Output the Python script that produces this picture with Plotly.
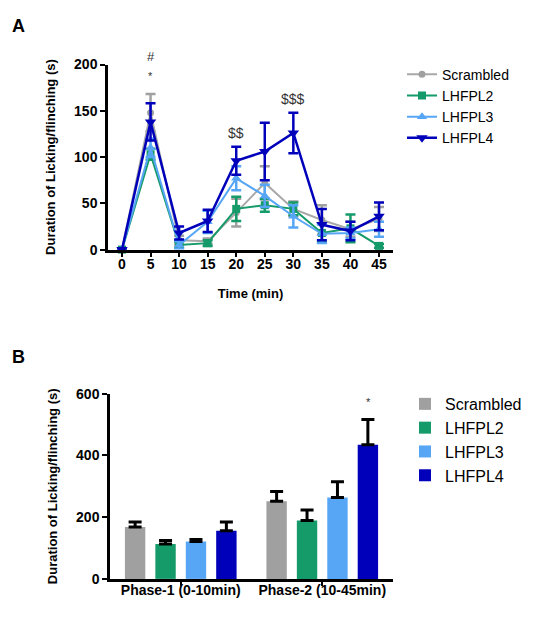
import plotly.graph_objects as go

# ---------------- Data ----------------
groups = ["Scrambled", "LHFPL2", "LHFPL3", "LHFPL4"]
colors = ["#a0a0a0", "#159a6a", "#57a6f6", "#0000bb"]
symbols = ["circle", "square", "triangle-up", "triangle-down"]
marker_sizes = [7, 8, 9, 10]

time_min = [0, 5, 10, 15, 20, 25, 30, 35, 40, 45]
scrambled = [0, 148, 10, 9, 40, 72, 44, 32, 22, 33]
scrambled_err = [0, 20, 5, 3, 15, 18, 8, 16, 8, 13]
lhfpl2 = [0, 103, 5, 7, 44, 48, 44, 18, 23, 4]
lhfpl2_err = [0, 6, 3, 3, 13, 7, 7, 10, 15, 2]
lhfpl3 = [0, 110, 5, 30, 77, 58, 36, 17, 18, 22]
lhfpl3_err = [0, 10, 4, 12, 13, 12, 12, 10, 6, 8]
lhfpl4 = [0, 138, 18, 31, 96, 106, 126, 27, 20, 36]
lhfpl4_err = [0, 20, 7, 12, 15, 31, 22, 17, 10, 15]

phases = ["Phase-1 (0-10min)", "Phase-2 (10-45min)"]
phase_scrambled = [168, 252]
phase_scrambled_err = [16, 31]
phase_lhfpl2 = [113, 189]
phase_lhfpl2_err = [11, 34]
phase_lhfpl3 = [121, 264]
phase_lhfpl3_err = [7, 51]
phase_lhfpl4 = [156, 435]
phase_lhfpl4_err = [28, 82]

line_series = [(scrambled, scrambled_err), (lhfpl2, lhfpl2_err),
               (lhfpl3, lhfpl3_err), (lhfpl4, lhfpl4_err)]
bar_series = [(phase_scrambled, phase_scrambled_err), (phase_lhfpl2, phase_lhfpl2_err),
              (phase_lhfpl3, phase_lhfpl3_err), (phase_lhfpl4, phase_lhfpl4_err)]

line_ticks = [0, 5, 10, 15, 20, 25, 30, 35, 40, 45]
line_yticks = [0, 50, 100, 150, 200]
bar_yticks = [0, 200, 400, 600]

# ---------------- Figure ----------------
W, H = 533, 620
fig = go.Figure()

FONT = "Liberation Sans, Arial, sans-serif"
line_colors = ["#a8a8a8", "#159a6a", "#57a6f6", "#0000bb"]

for i, name in enumerate(groups):
    vals, errs = line_series[i]
    fig.add_trace(go.Scatter(
        x=time_min, y=vals, name=name, mode="lines+markers",
        line=dict(color=line_colors[i], width=2.5 if i == 3 else 2),
        marker=dict(symbol=symbols[i], size=marker_sizes[i], color=colors[i]),
        error_y=dict(type="data", array=errs, color=colors[i], thickness=2.5, width=5),
        cliponaxis=False, xaxis="x", yaxis="y", legend="legend",
    ))

for i, name in enumerate(groups):
    vals, errs = bar_series[i]
    fig.add_trace(go.Bar(
        x=phases, y=vals, name=name,
        marker=dict(color=colors[i], line=dict(width=0)),
        error_y=dict(type="data", array=errs, arrayminus=[0] * len(errs), symmetric=False,
                     color="black", thickness=3, width=6.5),
        xaxis="x2", yaxis="y2", legend="legend2",
    ))

def px_x(p):
    return p / W

def px_y(p):
    return 1 - p / H

def axis_style(ticklen=5, standoff=0):
    return dict(
        showline=True, linecolor="black", linewidth=2.5, ticks="outside", ticklen=ticklen,
        tickwidth=2, tickcolor="black", showgrid=False, zeroline=False,
        ticklabelstandoff=standoff,
        tickfont=dict(family=FONT, size=14, color="black", weight="bold"),
    )

title_font = dict(family=FONT, size=13, weight="bold", color="black")

fig.update_layout(
    width=W, height=H, margin=dict(l=0, r=0, t=0, b=0),
    paper_bgcolor="white", plot_bgcolor="white",
    font=dict(family=FONT, color="black"),
    bargap=0.14, bargroupgap=0.33, barmode="group",
    xaxis=dict(domain=[px_x(108), px_x(393)], range=[-2.45, 47.45], anchor="y",
               tickvals=line_ticks,
               title=dict(text="Time (min)", font=title_font, standoff=18),
               **axis_style(5, -5)),
    yaxis=dict(domain=[px_y(248), px_y(58)], range=[0, 200], anchor="x",
               tickvals=line_yticks,
               title=dict(text="Duration of Licking/flinching (s)", font=title_font, standoff=16),
               **axis_style(5, 0)),
    xaxis2=dict(domain=[px_x(110), px_x(393)], range=[-0.5, 1.5], anchor="y2",
                type="category", **axis_style(4, -7)),
    yaxis2=dict(domain=[px_y(586), px_y(396)], range=[0, 600], anchor="x2",
                tickvals=bar_yticks,
                title=dict(text="Duration of Licking/flinching (s)", font=title_font, standoff=16),
                **axis_style(5, 0)),
    legend=dict(x=px_x(402), y=px_y(52), xanchor="left", yanchor="top",
                font=dict(family=FONT, size=14, color="black"), bgcolor="rgba(0,0,0,0)",
                itemwidth=30, tracegroupgap=0),
    legend2=dict(x=px_x(405), y=px_y(389), xanchor="left", yanchor="top",
                 font=dict(family=FONT, size=16, color="black"), bgcolor="rgba(0,0,0,0)",
                 itemwidth=30, tracegroupgap=0),
)

annots = [
    dict(text="<b>A</b>", x=px_x(18), y=px_y(18), xref="paper", yref="paper",
         showarrow=False, font=dict(family=FONT, size=18), xanchor="center", yanchor="middle"),
    dict(text="<b>B</b>", x=px_x(18), y=px_y(358), xref="paper", yref="paper",
         showarrow=False, font=dict(family=FONT, size=18), xanchor="center", yanchor="middle"),
    dict(text="#", x=5, y=188, yshift=19, xref="x", yref="y", showarrow=False,
         font=dict(family=FONT, size=13, color="#333")),
    dict(text="*", x=5, y=188, xref="x", yref="y", showarrow=False,
         font=dict(family=FONT, size=11, color="#333")),
    dict(text="$$", x=20, y=126, xref="x", yref="y", showarrow=False,
         font=dict(family=FONT, size=14, color="#333")),
    dict(text="$$$", x=30, y=163, xref="x", yref="y", showarrow=False,
         font=dict(family=FONT, size=14, color="#333")),
    dict(text="*", x=1, xshift=46, y=572, xref="x2", yref="y2", showarrow=False,
         yanchor="middle", xanchor="center",
         font=dict(family=FONT, size=11, color="#333")),
]
fig.update_layout(annotations=annots)

fig.write_html("out.html", post_script="document.body.style.margin='0';",
               config={"displayModeBar": False})
